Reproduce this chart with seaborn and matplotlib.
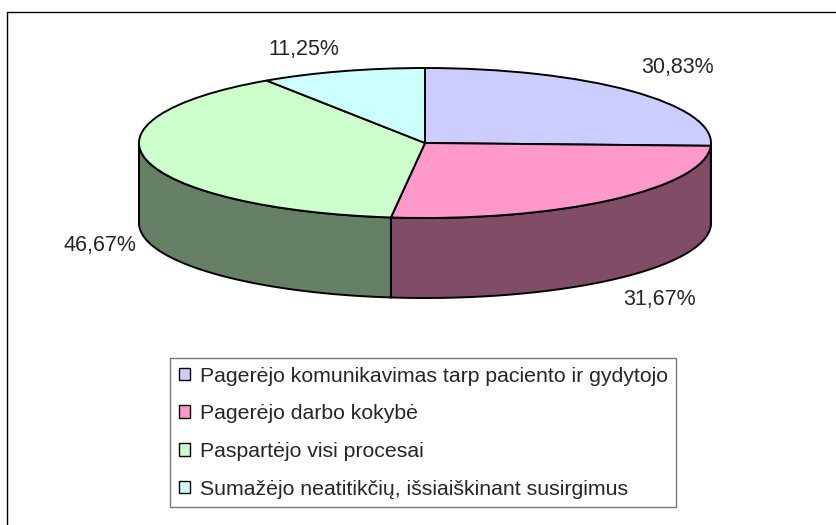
import numpy as np
import matplotlib
matplotlib.use("Agg")
import matplotlib.pyplot as plt
import seaborn as sns
from matplotlib.patches import Polygon, Patch
from matplotlib.lines import Line2D

# data
categories = [
    "Pagerėjo komunikavimas tarp paciento ir gydytojo",
    "Pagerėjo darbo kokybė",
    "Paspartėjo visi procesai",
    "Sumažėjo neatitikčių, išsiaiškinant susirgimus",
]
values = [30.83, 31.67, 46.67, 11.25]
value_labels = ["30,83%", "31,67%", "46,67%", "11,25%"]

top_colors = ["#CCCCFF", "#FF99CC", "#CCFFCC", "#CCFFFF"]
side_colors = ["#666680", "#804C66", "#668066", "#668080"]

# layout (pixels of the 836x525 picture)
W, H = 836, 525
CX, CY = 425, 143      # pie centre
RX, RY = 286, 75       # ellipse semi axes
DEPTH = 80 / 75        # wall height in y units
label_pos = [(678, 67), (660, 299), (100, 245), (304, 50)]

sns.set_style("white")
plt.rcParams["font.family"] = ["Liberation Sans", "DejaVu Sans"]

fig = plt.figure(figsize=(W / 100, H / 100), dpi=100)

# axes whose unit circle lands on the ellipse
xl, xr = -1.05, 1.05
yb, yt = -2.3, 1.1
left_px = CX + xl * RX
top_px = CY - yt * RY
w_px = (xr - xl) * RX
h_px = (yt - yb) * RY
ax = fig.add_axes([left_px / W, 1 - (top_px + h_px) / H, w_px / W, h_px / H])

# side walls first (front half only)
frac = np.cumsum([0] + values) / np.sum(values)
for i in range(len(values)):
    hi = 90 - frac[i] * 360
    lo = 90 - frac[i + 1] * 360
    a, b = max(lo, -180), min(hi, 0)
    if a >= b:
        continue
    t = np.radians(np.linspace(a, b, 120))
    top = np.column_stack([np.cos(t), np.sin(t)])
    bot = np.column_stack([np.cos(t[::-1]), np.sin(t[::-1]) - DEPTH])
    ax.add_patch(Polygon(np.vstack([top, bot]), closed=True,
                         facecolor=side_colors[i], edgecolor="black",
                         linewidth=1.4, zorder=1))

# top face
ax.pie(values, colors=top_colors, startangle=90, counterclock=False,
       wedgeprops=dict(edgecolor="black", linewidth=1.4, zorder=2))
ax.set_aspect("auto")
ax.set_xlim(xl, xr)
ax.set_ylim(yb, yt)
ax.axis("off")

# value labels
for txt, (px, py) in zip(value_labels, label_pos):
    fig.text(px / W, 1 - py / H, txt, fontsize=15.5, ha="center", va="center")

# chart frame (only left and top edges fall inside the picture)
fig.add_artist(Line2D([7 / W, 7 / W], [0, 1 - 12 / H], color="black", lw=1))
fig.add_artist(Line2D([7 / W, 1], [1 - 12 / H, 1 - 12 / H], color="black", lw=1))

# legend
handles = [Patch(facecolor=c, edgecolor="black", linewidth=1) for c in top_colors]
leg = fig.legend(handles, categories, loc="upper left",
                 bbox_to_anchor=(170 / W, 1 - 358 / H), borderaxespad=0,
                 fontsize=15.3, frameon=True, fancybox=False, edgecolor="#555555",
                 handlelength=0.55, handleheight=0.55, handletextpad=0.45,
                 labelspacing=0.88, borderpad=0.4)
leg.get_frame().set_linewidth(1)

fig.savefig("out.png", dpi=100)
